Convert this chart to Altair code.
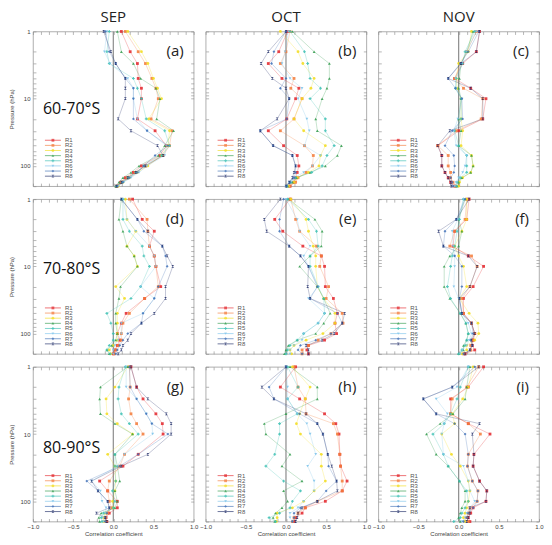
import altair as alt
import pandas as pd

levels = [1, 2, 3, 5, 7, 10, 20, 30, 50, 70, 100, 125, 150, 175, 200]
series = ["R1", "R2", "R3", "R4", "R5", "R6", "R7", "R8"]
colors = ["#e3262b", "#f37b3a", "#f2dc1c", "#2f9a4a", "#3bbfb3", "#7cc3ea", "#3e6fb6", "#1d2a66"]
shapes = ["square", "square", "circle", "triangle-up", "cross", "triangle-down", "diamond",
          "M-1,-1L1,-1L-1,1L1,1Z"]
months = ["SEP", "OCT", "NOV"]
regions = ["60-70°S", "70-80°S", "80-90°S"]
letters = [["(a)", "(b)", "(c)"], ["(d)", "(e)", "(f)"], ["(g)", "(h)", "(i)"]]
x_ticks = [-1.0, -0.9, -0.8, -0.7, -0.6, -0.5, -0.4, -0.3, -0.2, -0.1, 0.0,
           0.1, 0.2, 0.3, 0.4, 0.5, 0.6, 0.7, 0.8, 0.9, 1.0]
y_ticks = [1, 2, 3, 4, 5, 6, 7, 8, 9, 10, 20, 30, 40, 50, 60, 70, 80, 90, 100, 200]

# ---- correlation coefficients, rows R1..R8, columns = levels ----
sep_6070 = [
    [0.10, 0.21, 0.30, 0.31, 0.35, 0.35, 0.30, 0.52, 0.66, 0.58, 0.35, 0.25, 0.15, 0.09, 0.04],
    [0.15, 0.31, 0.40, 0.48, 0.53, 0.56, 0.47, 0.73, 0.70, 0.62, 0.40, 0.27, 0.17, 0.10, 0.05],
    [0.18, 0.35, 0.43, 0.50, 0.55, 0.60, 0.44, 0.70, 0.68, 0.60, 0.43, 0.30, 0.20, 0.12, 0.06],
    [0.05, 0.10, 0.25, 0.34, 0.53, 0.58, 0.54, 0.75, 0.64, 0.56, 0.32, 0.22, 0.12, 0.07, 0.03],
    [-0.05, -0.08, -0.05, 0.25, 0.30, 0.35, 0.41, 0.64, 0.70, 0.60, 0.38, 0.28, 0.18, 0.11, 0.04],
    [-0.08, -0.11, -0.04, 0.18, 0.25, 0.25, 0.30, 0.42, 0.66, 0.64, 0.42, 0.32, 0.22, 0.13, 0.06],
    [-0.10, -0.05, 0.03, 0.15, 0.25, 0.25, 0.25, 0.42, 0.68, 0.52, 0.38, 0.30, 0.20, 0.12, 0.05],
    [-0.12, -0.03, 0.03, 0.15, 0.15, 0.15, 0.06, 0.22, 0.55, 0.62, 0.40, 0.28, 0.18, 0.10, 0.04],
]
oct_6070 = [
    [0.02, -0.09, -0.22, -0.05, 0.16, 0.12, 0.01, -0.22, -0.03, 0.14, 0.16, 0.14, 0.12, 0.10, 0.05],
    [0.05, 0.00, -0.07, 0.10, 0.06, 0.20, 0.10, -0.07, 0.23, 0.34, 0.33, 0.25, 0.15, 0.12, 0.05],
    [-0.07, 0.15, 0.21, 0.35, 0.31, 0.20, 0.10, 0.22, 0.49, 0.43, 0.41, 0.28, 0.14, 0.10, 0.03],
    [0.08, 0.35, 0.54, 0.54, 0.51, 0.45, 0.37, 0.39, 0.69, 0.64, 0.49, 0.30, 0.13, 0.08, 0.02],
    [0.05, 0.23, 0.27, 0.30, 0.43, 0.30, 0.49, 0.49, 0.60, 0.51, 0.45, 0.32, 0.12, 0.06, 0.01],
    [0.03, -0.01, -0.05, 0.05, 0.20, 0.15, 0.26, 0.29, 0.23, 0.43, 0.33, 0.22, 0.10, 0.04, 0.00],
    [0.00, -0.15, -0.18, 0.00, -0.07, 0.04, 0.01, -0.32, -0.16, 0.08, 0.12, 0.12, 0.10, 0.05, 0.01],
    [0.00, -0.22, -0.31, -0.17, 0.00, 0.04, -0.11, -0.32, -0.16, 0.08, 0.12, 0.10, 0.08, 0.04, 0.00],
]
nov_6070 = [
    [0.26, 0.22, 0.05, -0.05, 0.15, 0.34, 0.30, 0.00, -0.26, -0.21, -0.21, -0.17, -0.13, -0.10, -0.05],
    [0.22, 0.10, 0.03, -0.05, 0.06, 0.30, 0.28, -0.03, -0.26, -0.13, -0.13, -0.10, -0.10, -0.07, -0.04],
    [0.16, 0.12, 0.00, -0.03, -0.02, 0.03, 0.03, 0.05, 0.03, 0.16, 0.18, 0.15, 0.05, 0.01, 0.00],
    [0.18, 0.10, 0.03, 0.01, 0.00, 0.03, 0.00, 0.03, 0.00, 0.16, 0.18, 0.15, 0.04, 0.00, -0.02],
    [0.20, 0.08, 0.05, -0.03, -0.04, 0.03, 0.03, -0.05, 0.00, 0.10, 0.10, 0.10, 0.02, -0.02, -0.03],
    [0.22, 0.10, 0.04, -0.04, -0.03, 0.04, -0.01, -0.06, -0.03, 0.10, 0.08, 0.05, 0.00, -0.03, -0.05],
    [0.25, 0.12, 0.02, -0.13, -0.04, 0.04, 0.05, -0.08, -0.17, -0.06, -0.05, -0.06, -0.10, -0.08, -0.07],
    [0.26, 0.22, 0.03, -0.13, 0.15, 0.30, 0.30, -0.11, -0.26, -0.21, -0.21, -0.17, -0.13, -0.10, -0.09],
]
sep_7080 = [
    [0.24, 0.36, 0.51, 0.45, 0.51, 0.53, 0.59, 0.39, 0.16, 0.10, 0.05, 0.08, 0.05, 0.02, 0.00],
    [0.20, 0.42, 0.43, 0.45, 0.51, 0.53, 0.56, 0.39, 0.20, 0.12, 0.10, 0.10, 0.06, 0.03, 0.01],
    [0.15, 0.17, 0.28, 0.17, 0.26, 0.30, 0.03, 0.14, 0.05, 0.05, 0.05, 0.05, 0.00, -0.05, -0.03],
    [0.10, 0.07, 0.12, 0.17, 0.26, 0.30, 0.09, 0.07, 0.03, 0.03, 0.05, 0.03, -0.02, -0.08, -0.05],
    [0.12, 0.12, 0.20, 0.36, 0.38, 0.45, 0.34, 0.22, -0.08, -0.03, 0.00, 0.00, -0.05, -0.08, -0.04],
    [0.12, 0.17, 0.28, 0.45, 0.51, 0.53, 0.34, 0.51, 0.37, 0.10, 0.10, 0.06, 0.02, 0.00, 0.00],
    [0.10, 0.30, 0.38, 0.61, 0.65, 0.67, 0.56, 0.51, 0.37, 0.35, 0.18, 0.12, 0.08, 0.05, 0.03],
    [0.10, 0.30, 0.43, 0.61, 0.67, 0.74, 0.65, 0.65, 0.51, 0.35, 0.22, 0.18, 0.12, 0.10, 0.06],
]
oct_7080 = [
    [0.05, -0.14, -0.04, 0.21, 0.44, 0.48, 0.49, 0.59, 0.64, 0.61, 0.63, 0.48, 0.28, 0.26, 0.28],
    [0.06, 0.12, 0.17, 0.38, 0.44, 0.42, 0.53, 0.50, 0.70, 0.71, 0.56, 0.40, 0.28, 0.20, 0.20],
    [0.06, 0.25, 0.28, 0.34, 0.37, 0.37, 0.39, 0.47, 0.61, 0.61, 0.46, 0.25, 0.10, 0.05, 0.07],
    [0.03, 0.36, 0.45, 0.44, 0.30, 0.17, 0.39, 0.47, 0.55, 0.47, 0.37, 0.14, 0.03, 0.00, -0.02],
    [0.02, 0.28, 0.38, 0.40, 0.30, 0.30, 0.40, 0.47, 0.48, 0.40, 0.22, 0.14, 0.05, 0.02, 0.00],
    [0.00, 0.14, 0.17, 0.30, 0.22, 0.28, 0.40, 0.28, 0.48, 0.40, 0.22, 0.20, 0.10, 0.05, 0.05],
    [-0.03, -0.08, -0.08, 0.04, 0.18, 0.28, 0.39, 0.30, 0.64, 0.70, 0.56, 0.37, 0.18, 0.15, 0.20],
    [-0.07, -0.27, -0.24, 0.04, 0.18, 0.28, 0.27, 0.30, 0.73, 0.70, 0.60, 0.45, 0.25, 0.28, 0.28],
]
nov_7080 = [
    [0.13, 0.10, -0.05, -0.07, 0.12, 0.31, 0.18, 0.06, 0.06, 0.16, 0.20, 0.18, 0.17, 0.20, 0.08],
    [0.10, 0.08, -0.05, -0.11, 0.16, 0.23, 0.14, 0.04, 0.06, 0.16, 0.20, 0.18, 0.15, 0.15, 0.06],
    [0.10, 0.10, 0.04, -0.05, 0.00, 0.06, 0.10, 0.01, 0.13, 0.24, 0.25, 0.20, 0.10, 0.10, 0.04],
    [0.08, 0.00, 0.04, 0.00, -0.11, -0.18, -0.18, -0.11, 0.02, 0.09, 0.12, 0.10, 0.06, 0.06, 0.00],
    [0.06, 0.01, -0.02, -0.05, -0.08, -0.10, -0.14, -0.10, 0.02, 0.09, 0.12, 0.10, 0.08, 0.04, 0.00],
    [0.06, -0.01, -0.08, -0.07, -0.05, -0.05, -0.06, 0.00, 0.04, 0.12, 0.16, 0.13, 0.10, 0.05, 0.02],
    [0.08, -0.03, -0.17, -0.19, -0.05, 0.04, 0.04, 0.01, 0.04, 0.16, 0.18, 0.15, 0.17, 0.14, 0.06],
    [0.13, -0.03, -0.25, -0.19, 0.12, 0.23, 0.14, 0.01, 0.04, 0.16, 0.20, 0.16, 0.17, 0.14, 0.08],
]
sep_8090 = [
    [0.22, 0.29, 0.37, 0.53, 0.61, 0.62, 0.31, 0.12, -0.17, -0.07, 0.05, 0.05, -0.05, -0.09, -0.08],
    [0.20, 0.21, 0.19, 0.22, 0.29, 0.37, 0.14, 0.08, -0.05, -0.07, -0.05, -0.02, -0.07, -0.10, -0.09],
    [0.18, 0.02, -0.09, -0.08, 0.05, 0.24, -0.07, 0.02, 0.03, 0.02, -0.01, 0.00, -0.10, -0.12, -0.12],
    [0.18, -0.16, -0.17, -0.16, 0.02, 0.24, 0.02, 0.05, 0.08, 0.02, 0.05, 0.02, -0.15, -0.18, -0.17],
    [0.15, 0.07, 0.06, 0.10, 0.20, 0.31, 0.02, 0.02, 0.03, -0.01, 0.02, 0.00, -0.12, -0.15, -0.14],
    [0.16, 0.16, 0.29, 0.41, 0.48, 0.49, 0.14, 0.05, -0.27, -0.16, -0.14, -0.09, -0.10, -0.13, -0.12],
    [0.20, 0.21, 0.29, 0.41, 0.48, 0.68, 0.31, 0.08, -0.33, -0.19, -0.07, -0.05, -0.08, -0.10, -0.10],
    [0.22, 0.29, 0.43, 0.66, 0.72, 0.72, 0.43, 0.10, -0.27, -0.19, -0.07, -0.05, -0.21, -0.10, -0.08],
]
oct_8090 = [
    [0.12, -0.07, 0.17, 0.48, 0.62, 0.66, 0.67, 0.68, 0.76, 0.70, 0.49, 0.24, 0.20, 0.12, 0.10],
    [0.10, 0.15, 0.24, 0.25, 0.59, 0.64, 0.67, 0.68, 0.70, 0.70, 0.39, 0.24, 0.15, 0.10, 0.08],
    [0.08, 0.30, 0.24, 0.17, 0.13, 0.18, 0.44, 0.44, 0.49, 0.35, 0.22, 0.08, -0.11, -0.11, -0.12],
    [0.05, 0.39, 0.39, 0.00, -0.27, -0.25, 0.05, -0.05, 0.20, -0.03, 0.02, -0.05, -0.13, -0.16, -0.14],
    [0.02, 0.15, 0.02, 0.14, -0.08, -0.08, -0.14, -0.25, -0.03, 0.18, 0.08, 0.05, -0.08, -0.21, -0.13],
    [0.00, 0.02, 0.02, 0.14, 0.26, 0.30, 0.37, 0.27, 0.35, 0.35, 0.22, 0.15, 0.05, 0.05, 0.08],
    [0.00, -0.21, -0.15, 0.17, 0.39, 0.46, 0.52, 0.53, 0.63, 0.50, 0.39, 0.18, 0.10, 0.10, 0.08],
    [0.00, -0.30, -0.15, 0.25, 0.39, 0.46, 0.52, 0.57, 0.63, 0.64, 0.39, 0.20, 0.15, 0.14, 0.12],
]
nov_8090 = [
    [0.31, 0.12, -0.10, -0.10, 0.12, 0.39, 0.19, 0.18, 0.26, 0.35, 0.34, 0.18, 0.15, 0.12, 0.14],
    [0.25, 0.10, -0.08, -0.10, 0.12, 0.27, 0.12, 0.11, 0.17, 0.24, 0.23, 0.14, 0.12, 0.10, 0.12],
    [0.18, 0.12, 0.05, -0.08, -0.05, -0.21, -0.09, 0.02, 0.12, 0.14, 0.12, 0.10, 0.08, 0.06, 0.08],
    [0.14, 0.10, 0.08, -0.07, -0.23, -0.40, -0.28, -0.13, 0.01, 0.08, 0.08, 0.04, 0.02, 0.00, 0.02],
    [0.12, 0.02, -0.02, -0.10, -0.18, -0.32, -0.19, -0.13, 0.01, 0.10, 0.12, 0.08, 0.04, 0.02, -0.06],
    [0.12, -0.02, -0.28, -0.14, -0.18, -0.21, -0.19, 0.06, 0.12, 0.14, 0.20, 0.14, 0.10, 0.08, 0.04],
    [0.20, -0.08, -0.44, -0.28, -0.05, 0.08, 0.12, 0.11, 0.17, 0.24, 0.23, 0.18, 0.12, 0.10, 0.06],
    [0.25, -0.08, -0.44, -0.28, 0.26, 0.17, 0.19, 0.18, 0.26, 0.35, 0.34, 0.14, 0.14, 0.12, 0.10],
]

grid = [[sep_6070, oct_6070, nov_6070],
        [sep_7080, oct_7080, nov_7080],
        [sep_8090, oct_8090, nov_8090]]
region_label_y = [78, 70, 81]

W, H = 161, 155
FONT = "Liberation Sans"
TFONT = "Open Sans"

col_scale = alt.Scale(domain=series, range=colors)
shp_scale = alt.Scale(domain=series, range=shapes)
xs = alt.Scale(domain=[-1, 1], nice=False, zero=False)
ys = alt.Scale(type="log", domain=[1, 200], reverse=True, nice=False)

x_label_expr = "abs(datum.value*2 - round(datum.value*2)) < 0.001 ? format(datum.value, '.1f') : ''"
y_label_expr = "(datum.value == 1 || datum.value == 10 || datum.value == 100) ? format(datum.value, 'd') : ''"


def make_panel(vals, r, c):
    rows = []
    for s, name in enumerate(series):
        for i, lev in enumerate(levels):
            rows.append({"series": name, "level": lev, "li": i, "r": vals[s][i]})
    df = pd.DataFrame(rows)
    base = alt.Chart(df)

    bkw = dict(orient="bottom", values=x_ticks, offset=-3, tickSize=3, labelFlush=False,
               labelOverlap=False, labelPadding=2)
    if r == 2:
        bkw.update(labelExpr=x_label_expr, title="Correlation coefficient", titlePadding=1)
    else:
        bkw.update(labels=False, title="")
    lkw = dict(orient="left", values=y_ticks, offset=-3, tickSize=3, labelOverlap=False,
               labelPadding=3)
    if c == 0:
        lkw.update(labelExpr=y_label_expr, title="Pressure (hPa)", titlePadding=5)
    else:
        lkw.update(labels=False, title="")

    lines = base.mark_line(strokeWidth=0.6, opacity=0.45).encode(
        x=alt.X("r:Q", scale=xs, axis=alt.Axis(**bkw)),
        y=alt.Y("level:Q", scale=ys, axis=alt.Axis(**lkw)),
        color=alt.Color("series:N", scale=col_scale, legend=None),
        detail="series:N",
        order=alt.Order("li:Q"),
    )
    pts = base.mark_point(filled=True, size=8, opacity=0.85).encode(
        x=alt.X("r:Q", scale=xs, axis=alt.Axis(orient="top", values=x_ticks, offset=-3,
                                                 tickSize=3, labels=False, title="")),
        y=alt.Y("level:Q", scale=ys, axis=alt.Axis(orient="right", values=y_ticks, offset=-3,
                                                     tickSize=3, labels=False, title="")),
        color=alt.Color("series:N", scale=col_scale, legend=None),
        shape=alt.Shape("series:N", scale=shp_scale, legend=None),
    )
    zero = alt.Chart(pd.DataFrame({"z": [0.0]})).mark_rule(
        color="#8c8c8c", strokeWidth=1.2).encode(x=alt.X("z:Q", scale=xs, axis=None))

    leg = alt.Chart(pd.DataFrame({"series": series, "k": list(range(len(series)))}))
    ly = alt.Y("k:Q", scale=alt.Scale(domain=[0, 7], range=[109, 145]), axis=None)
    leg_line = leg.mark_rule(strokeWidth=0.8, opacity=0.8).encode(
        x=alt.value(12), x2=alt.value(28), y=ly,
        color=alt.Color("series:N", scale=col_scale, legend=None))
    leg_pt = leg.mark_point(filled=True, size=8).encode(
        x=alt.value(20), y=ly,
        color=alt.Color("series:N", scale=col_scale, legend=None),
        shape=alt.Shape("series:N", scale=shp_scale, legend=None))
    leg_txt = leg.mark_text(align="left", baseline="middle", fontSize=6, font=FONT,
                            color="#555").encode(x=alt.value(32), y=ly, text="series:N")

    letter = alt.Chart(pd.DataFrame({"t": [letters[r][c]]})).mark_text(
        align="right", baseline="middle", fontSize=15, font=TFONT, color="#222").encode(
        x=alt.value(151), y=alt.value(20), text="t:N")

    layers = [zero, lines, pts, leg_line, leg_pt, leg_txt, letter]
    if c == 0:
        reg = alt.Chart(pd.DataFrame({"t": [regions[r]]})).mark_text(
            align="left", baseline="middle", fontSize=16, font=TFONT, color="#111").encode(
            x=alt.value(10), y=alt.value(region_label_y[r]), text="t:N")
        layers.append(reg)
    if r == 0:
        mon = alt.Chart(pd.DataFrame({"t": [months[c]]})).mark_text(
            align="center", baseline="middle", fontSize=15, font=TFONT, color="#222").encode(
            x=alt.value(W / 2), y=alt.value(-14), text="t:N")
        layers.append(mon)

    ch = alt.layer(*layers).resolve_scale(y="independent").resolve_axis(
        x="independent", y="independent").properties(width=W, height=H)
    return ch


panels = [make_panel(grid[r][c], r, c) for r in range(3) for c in range(3)]

chart = alt.concat(*panels, columns=3, spacing={"row": 13, "column": 12},
                   bounds="flush").properties(padding={"left": 0, "top": 1, "right": 0, "bottom": 0})
chart = chart.configure_view(stroke="#9a9a9a", strokeWidth=0.8).configure_axis(
    domain=False, grid=False, tickColor="#888", tickWidth=0.6,
    labelFontSize=6, titleFontSize=6, labelColor="#444", titleColor="#444",
    titleFontWeight="normal", labelFont=FONT, titleFont=FONT)

chart.save("out.html", embed_options={"renderer": "svg", "actions": False})
